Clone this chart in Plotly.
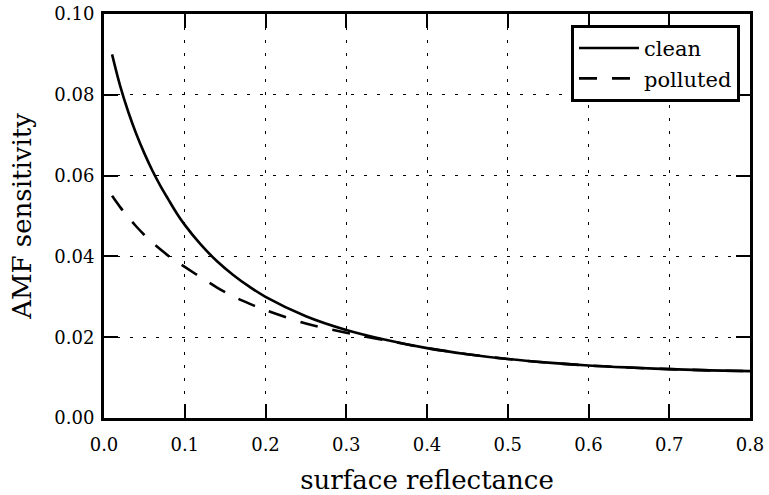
import plotly.graph_objects as go

# Data
clean_x = [0.01, 0.02, 0.03, 0.04, 0.05, 0.06, 0.07, 0.08, 0.09, 0.10, 0.12, 0.14, 0.16, 0.18,
           0.20, 0.25, 0.30, 0.35, 0.40, 0.45, 0.50, 0.55, 0.60, 0.65, 0.70, 0.75, 0.80]
clean_y = [0.0900, 0.0822, 0.0758, 0.0703, 0.0655, 0.0612, 0.0574, 0.0540, 0.0507, 0.0478,
           0.0429, 0.0388, 0.0354, 0.0325, 0.0300, 0.0252, 0.0218, 0.0193, 0.0173, 0.0158,
           0.0146, 0.0137, 0.0130, 0.0125, 0.0121, 0.0118, 0.0116]

polluted_x = [0.01, 0.02, 0.03, 0.04, 0.05, 0.06, 0.07, 0.08, 0.09, 0.10, 0.12, 0.14, 0.16, 0.18,
              0.20, 0.25, 0.30, 0.35, 0.40, 0.45, 0.50, 0.55, 0.60, 0.65, 0.70, 0.75, 0.80]
polluted_y = [0.0550, 0.0522, 0.0497, 0.0474, 0.0453, 0.0434, 0.0417, 0.0401, 0.0387, 0.0374,
              0.0348, 0.0323, 0.0301, 0.0283, 0.0267, 0.0234, 0.0211, 0.0192, 0.0173, 0.0158,
              0.0146, 0.0137, 0.0130, 0.0125, 0.0121, 0.0118, 0.0116]

x_ticks = [0.0, 0.1, 0.2, 0.3, 0.4, 0.5, 0.6, 0.7, 0.8]
x_tick_labels = ["0.0", "0.1", "0.2", "0.3", "0.4", "0.5", "0.6", "0.7", "0.8"]
y_ticks = [0.00, 0.02, 0.04, 0.06, 0.08, 0.10]
y_tick_labels = ["0.00", "0.02", "0.04", "0.06", "0.08", "0.10"]

FONT = "DejaVu Serif"

fig = go.Figure()
fig.add_trace(go.Scatter(x=clean_x, y=clean_y, mode="lines", name="clean",
                         line=dict(color="black", width=2.6, shape="spline", smoothing=1.0)))
fig.add_trace(go.Scatter(x=polluted_x, y=polluted_y, mode="lines", name="polluted",
                         line=dict(color="black", width=2.6, dash="18px,15px", shape="spline", smoothing=1.0)))

axis_common = dict(
    showline=True, linecolor="black", linewidth=3, mirror="ticks",
    ticks="inside", ticklen=14, tickwidth=1.8, tickcolor="black",
    showgrid=True, gridcolor="black", gridwidth=1.3, griddash="3px,10px",
    zeroline=False, automargin=False, ticklabeloverflow="allow",
    tickfont=dict(family=FONT, size=18, color="black"),
)

fig.update_xaxes(range=[0, 0.8], tickvals=x_ticks, ticktext=x_tick_labels, ticklabelstandoff=8,
                 title=dict(text="surface reflectance", font=dict(family=FONT, size=26, color="black"), standoff=18),
                 **axis_common)
fig.update_yaxes(range=[0, 0.1], tickvals=y_ticks, ticktext=y_tick_labels, ticklabelstandoff=3,
                 title=dict(text="AMF sensitivity", font=dict(family=FONT, size=26, color="black"), standoff=16),
                 **axis_common)

fig.update_layout(
    width=769, height=495,
    margin=dict(l=104, r=19, t=14, b=77),
    paper_bgcolor="white", plot_bgcolor="white",
    font=dict(family=FONT, color="black"),
    showlegend=True,
    legend=dict(x=0.9845, y=0.973, xanchor="right", yanchor="top",
                bgcolor="white", bordercolor="black", borderwidth=3,
                font=dict(family=FONT, size=21, color="black"),
                itemwidth=60, tracegroupgap=4),
)

# Remove the default page margin so the figure sits at the window's top-left corner.
fig.write_html("out.html", config={"displayModeBar": False},
               post_script="document.body.style.margin='0';document.body.style.overflow='hidden';")
